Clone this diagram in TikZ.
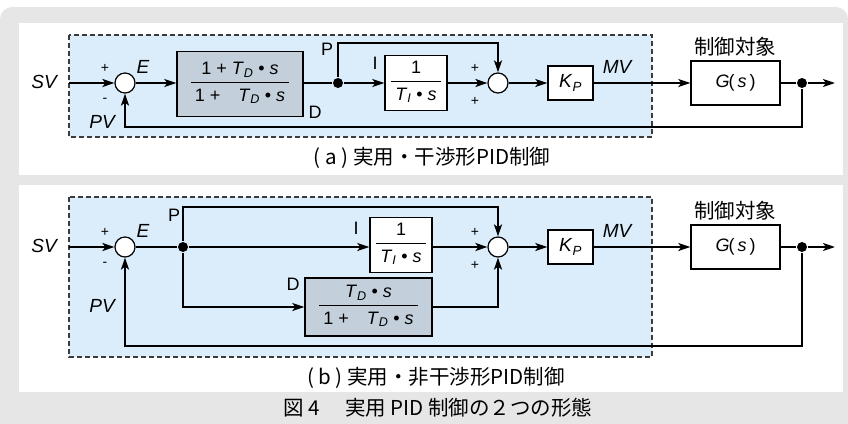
\documentclass[tikz,border=0pt]{standalone}
\usepackage{fontspec}
\setmainfont{Liberation Sans}
\newfontfamily\jpfont{Noto Sans CJK JP}
\usetikzlibrary{arrows.meta}

\definecolor{panelgray}{HTML}{E6E6E6}
\definecolor{ctrlblue}{HTML}{DBEDFB}
\definecolor{blockgray}{HTML}{C3D0DB}
\definecolor{borderdark}{HTML}{3C3C3C}

\newcommand{\itsub}[2]{\textit{#1}\textsubscript{\textit{#2}}}
\newcommand{\blockfrac}[2]{\setlength{\arrayrulewidth}{1.2pt}%
  \begin{tabular}{@{\hspace{4pt}}c@{\hspace{4pt}}}#1\\[1pt]\hline\rule{0pt}{18pt}#2\end{tabular}}

\begin{document}
\begin{tikzpicture}[x=1pt, y=-1pt, line width=2pt, >={Stealth[length=12pt,width=8pt,inset=3pt]}]
    \tikzstyle{sumnode} = [circle, draw, fill=white, line width=1.2pt, minimum size=20pt, inner sep=0pt]
    \tikzstyle{block} = [rectangle, draw, fill=white, line width=1.4pt, inner sep=0pt, font=\fontsize{18}{20}\selectfont]
    \tikzstyle{dot} = [circle, fill, inner sep=0pt, minimum size=10pt]
    \tikzstyle{lbl} = [inner sep=0pt, font=\fontsize{19}{21}\selectfont\itshape]
    \tikzstyle{tag} = [inner sep=0pt, font=\fontsize{18}{20}\selectfont]
    \tikzstyle{sgn} = [inner sep=0pt, font=\fontsize{14}{15}\selectfont]
    \tikzstyle{captext} = [inner sep=0pt, font=\fontsize{20.5}{22}\selectfont\jpfont]
    \tikzstyle{ctrlarea} = [fill=ctrlblue, draw=borderdark, line width=1.3pt, dash pattern=on 5pt off 3pt]

    \useasboundingbox (0,0) rectangle (848,423);
    \fill[panelgray, rounded corners=12pt] (0,7) rectangle (848,440);
    \fill[white] (19,23) rectangle (843,175);
    \fill[white] (19,185) rectangle (843,392);
    \draw[ctrlarea] (69,35) rectangle (652,137);
    \draw[ctrlarea] (69,197) rectangle (652,357);

    % parts shared by both loops
    \foreach \p/\m/\f/\v in {a/83/127/122, b/247/346/306} {
        \coordinate (in\p) at (69,\m);
        \node[lbl] (sv\p) at (44,\m-1) {SV};
        \node[sumnode] (s1\p) at (125,\m) {};
        \node[sumnode] (s2\p) at (498,\m) {};
        \node[block, minimum width=45pt, minimum height=34pt, font=\fontsize{19}{21}\selectfont] (kp\p) at (570.5,\m) {\itsub{K}{P}};
        \node[block, minimum width=89pt, minimum height=44pt, font=\fontsize{18}{20}\selectfont] (gp\p) at (735.5,\m) {\textit{G}\kern-1pt(\,\textit{s}\,)};
        \node[dot] (o\p) at (802,\m) {};
        \coordinate (end\p) at (835,\m);
        \node[sgn] (pl\p) at (105,\m-15) {+};
        \node[sgn] (mn\p) at (105,\m+17) {-};
        \node[sgn] (pu\p) at (475,\m-15) {+};
        \node[sgn] (pd\p) at (475,\m+18) {+};
        \node[lbl] (e\p) at (143,\m-16) {E};
        \node[lbl] (mv\p) at (617,\m-16) {MV};
        \node[lbl] (pv\p) at (102,\v) {PV};
        \node[captext] (plant\p) at (735,\m-36) {制御対象};
        \draw[->] (in\p) -- (s1\p);
        \draw[->] (s2\p) -- (kp\p);
        \draw[->] (kp\p) -- (gp\p);
        \draw (gp\p) -- (o\p);
        \draw[->] (o\p) -- (end\p);
        \draw[->] (o\p) -- (o\p |- 0,\f) -| (s1\p);
    }

    % (a) interacting form
    \node[block, fill=blockgray, minimum width=126pt, minimum height=65pt] (ga) at (240,84) {\blockfrac{1 + \itsub{T}{D} • \textit{s}}{1 +\quad\itsub{T}{D} • \textit{s}}};
    \node[dot] (pa) at (338,83) {};
    \node[block, minimum width=62pt, minimum height=55pt] (ia) at (416,83) {\blockfrac{1}{\itsub{T}{I} • \textit{s}}};
    \node[tag] (lpa) at (327,49) {P};
    \node[tag] (lda) at (315,112) {D};
    \node[tag] (lia) at (375,63) {I};
    \draw[->] (s1a) -- (s1a -| ga.west);
    \draw (ga.east |- pa) -- (pa);
    \draw[->] (pa) -- (ia);
    \draw[->] (pa) -- ++(0,-40) -| (s2a);
    \draw[->] (ia) -- (s2a);
    \node[captext] (capa) at (432,158) {( a ) 実用・干渉形PID制御};

    % (b) non-interacting form
    \node[dot] (pb) at (183,247) {};
    \node[block, minimum width=62pt, minimum height=55pt] (ib) at (401,245) {\blockfrac{1}{\itsub{T}{I} • \textit{s}}};
    \node[block, fill=blockgray, minimum width=127pt, minimum height=58pt] (db) at (368.5,307) {\blockfrac{\itsub{T}{D} • \textit{s}}{1 +\quad\itsub{T}{D} • \textit{s}}};
    \node[tag] (lpb) at (174,215) {P};
    \node[tag] (ldb) at (293,284) {D};
    \node[tag] (lib) at (356,228) {I};
    \draw (s1b) -- (pb);
    \draw[->] (pb) -- (pb -| ib.west);
    \draw[->] (ib.east |- s2b) -- (s2b);
    \draw[->] (pb) -- ++(0,-40) -| (s2b);
    \draw[->] (pb) |- (db);
    \draw[->] (db) -| (s2b);
    \node[captext] (capb) at (436,378) {( b ) 実用・非干渉形PID制御};

    \node[captext] (title) at (438,408) {図 4　 実用 PID 制御の２つの形態};
\end{tikzpicture}
\end{document}
